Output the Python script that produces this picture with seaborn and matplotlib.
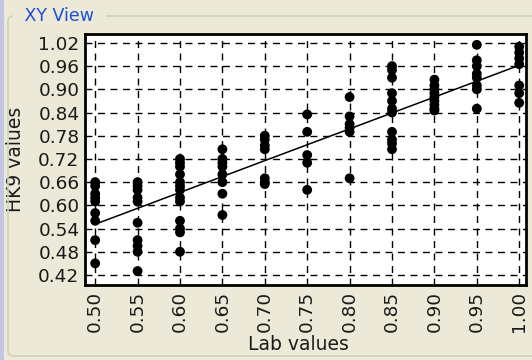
import numpy as np
import pandas as pd
import matplotlib
matplotlib.use("Agg")
import matplotlib.pyplot as plt
from matplotlib.patches import FancyBboxPatch, Rectangle
import seaborn as sns

# Lab reference values (x) and the HK9 readings measured at each of them (y)
lab_050 = [0.66, 0.65, 0.63, 0.62, 0.61, 0.58, 0.56, 0.51, 0.45]
lab_055 = [0.66, 0.65, 0.64, 0.62, 0.61, 0.555, 0.51, 0.495, 0.48, 0.43]
lab_060 = [0.72, 0.71, 0.70, 0.68, 0.66, 0.65, 0.64, 0.62, 0.61, 0.56, 0.54, 0.53, 0.48]
lab_065 = [0.745, 0.72, 0.71, 0.70, 0.68, 0.66, 0.63, 0.575]
lab_070 = [0.78, 0.77, 0.755, 0.745, 0.67, 0.66, 0.655]
lab_075 = [0.835, 0.79, 0.73, 0.71, 0.64]
lab_080 = [0.88, 0.83, 0.81, 0.80, 0.79, 0.67]
lab_085 = [0.96, 0.95, 0.93, 0.89, 0.87, 0.85, 0.84, 0.79, 0.77, 0.76, 0.745]
lab_090 = [0.925, 0.91, 0.90, 0.89, 0.88, 0.87, 0.86, 0.85, 0.845]
lab_095 = [1.015, 0.975, 0.96, 0.94, 0.93, 0.91, 0.90, 0.85]
lab_100 = [1.01, 0.995, 0.98, 0.965, 0.91, 0.89, 0.865]

lab_levels = [0.50, 0.55, 0.60, 0.65, 0.70, 0.75, 0.80, 0.85, 0.90, 0.95, 1.00]
hk9_groups = [lab_050, lab_055, lab_060, lab_065, lab_070, lab_075,
              lab_080, lab_085, lab_090, lab_095, lab_100]

x_ticks = [0.50, 0.55, 0.60, 0.65, 0.70, 0.75, 0.80, 0.85, 0.90, 0.95, 1.00]
y_ticks = [0.42, 0.48, 0.54, 0.60, 0.66, 0.72, 0.78, 0.84, 0.90, 0.96, 1.02]

df = pd.DataFrame({
    "lab": [lv for lv, g in zip(lab_levels, hk9_groups) for _ in g],
    "hk9": [v for g in hk9_groups for v in g],
})

sns.set_theme(style="white")
plt.rcParams["font.family"] = ["DejaVu Sans"]

panel_bg = "#ECE9D8"
W, H = 532, 360
fig = plt.figure(figsize=(W / 100, H / 100), dpi=100, facecolor=panel_bg)

# window edge strip and group box frame
fig.patches.append(Rectangle((0, 0), 4 / W, 1, transform=fig.transFigure,
                             facecolor="#C3C6E2", edgecolor="none", zorder=0))
fig.patches.append(FancyBboxPatch((8 / W, 4 / H), 1.2, (H - 4 - 16) / H,
                                  boxstyle="round,pad=0,rounding_size=0.012",
                                  transform=fig.transFigure, facecolor="none",
                                  edgecolor="#D0D0BF", linewidth=1.2, zorder=0))
fig.text(19 / W, 1 - 16 / H, " XY View ", color="#1E50D2", fontsize=12.5,
         va="center", ha="left", backgroundcolor=panel_bg, zorder=1)

ax = fig.add_axes([85 / W, 1 - 285 / H, (526 - 85) / W, (285 - 34) / H])
ax.set_facecolor("white")

sns.regplot(data=df, x="lab", y="hk9", ax=ax, ci=None,
            scatter_kws=dict(s=50, color="black", edgecolors="none", alpha=1),
            line_kws=dict(color="black", linewidth=1.1))

ax.set_xlim(0.488, 1.008)
ax.set_ylim(0.394, 1.043)
ax.set_xticks(x_ticks)
ax.set_yticks(y_ticks)
ax.set_xticklabels([f"{t:.2f}" for t in x_ticks], rotation=90)
ax.set_yticklabels([f"{t:.2f}" for t in y_ticks])
ax.tick_params(axis="both", labelsize=13.3, colors="#1a1a1a", length=0, pad=4)

ax.grid(True, color="black", linestyle=(0, (5, 4)), linewidth=1.0)
ax.set_axisbelow(True)
for sp in ax.spines.values():
    sp.set_visible(True)
    sp.set_color("black")
    sp.set_linewidth(2)

ax.set_xlabel("Lab values", fontsize=13.5, color="#1a1a1a")
ax.set_ylabel("HK9 values", fontsize=13.5, color="#1a1a1a")
ax.xaxis.set_label_coords((298 - 85) / 441, -50 / 251)
ax.yaxis.label.set_verticalalignment("center")
ax.yaxis.set_label_coords(-69 / 441, 0.5)

fig.savefig("out.png", dpi=100, facecolor=panel_bg)
